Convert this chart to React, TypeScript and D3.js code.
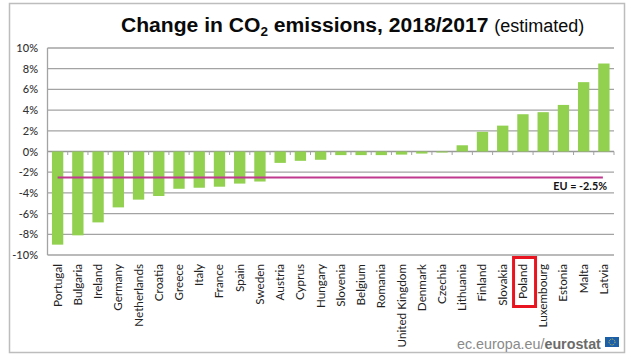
import React from "react";
import * as d3 from "d3";

const countries = ["Portugal","Bulgaria","Ireland","Germany","Netherlands","Croatia","Greece","Italy","France","Spain","Sweden","Austria","Cyprus","Hungary","Slovenia","Belgium","Romania","United Kingdom","Denmark","Czechia","Lithuania","Finland","Slovakia","Poland","Luxembourg","Estonia","Malta","Latvia"];
const changes = [-9.0,-8.1,-6.85,-5.4,-4.65,-4.3,-3.6,-3.5,-3.4,-3.1,-2.9,-1.1,-0.9,-0.8,-0.35,-0.35,-0.35,-0.3,-0.2,-0.1,0.6,1.9,2.5,3.6,3.8,4.5,6.7,8.5];
const yTicks = [10,8,6,4,2,0,-2,-4,-6,-8,-10];
const euValue = -2.5;

const W = 640, H = 356;
const y = d3.scaleLinear().domain([-10, 10]).range([255, 48]);
const x = d3.scaleBand<string>().domain(countries).range([47.5, 614]).paddingInner(0.44).paddingOuter(0.22);
const step = x.step();
const left = 47.5, right = 614;
const labelFont = "Lato, Carlito, 'Open Sans', sans-serif";
const grey = "#a3a3a3";

export default function App() {
  const poland = x("Poland")! + x.bandwidth() / 2;
  return (
    <svg width={W} height={H} viewBox={`0 0 ${W} ${H}`} style={{ position: "absolute", left: 0, top: 0, background: "#fff" }}>
      <rect x={9.5} y={3.5} width={615} height={349} fill="none" stroke="#bdbdbd" strokeWidth={1.5} />
      <text x={121} y={32} fontFamily="'Liberation Sans', Arial, sans-serif" fontSize={21.1} fontWeight={700} fill="#0a0a0a">
        Change in CO<tspan dy={4} fontSize={13.5}>2</tspan><tspan dy={-4}> emissions, 2018/2017 </tspan>
        <tspan fontWeight={400} fontSize={18}>(estimated)</tspan>
      </text>
      {yTicks.map(t => (
        <g key={t}>
          <line x1={left} x2={right} y1={y(t)} y2={y(t)} stroke={t === 0 ? "#999" : grey} strokeWidth={1.3} />
          <text x={38} y={y(t) + 4} textAnchor="end" fontFamily={labelFont} fontSize={11} fontWeight={500} fill="#333">{t}%</text>
        </g>
      ))}
      <line x1={left} x2={left} y1={48} y2={255} stroke={grey} strokeWidth={1.3} />
      {d3.range(countries.length + 1).map(i => (
        <line key={i} x1={left + i * step} x2={left + i * step} y1={y(0)} y2={y(0) + 3.5} stroke={grey} strokeWidth={1} />
      ))}
      {countries.map((c, i) => (
        <rect key={c} x={x(c)!} width={x.bandwidth()} y={Math.min(y(0), y(changes[i]))} height={Math.abs(y(changes[i]) - y(0))} fill="#92d050" />
      ))}
      <line x1={x("Portugal")! + x.bandwidth() / 2} x2={x("Latvia")! + x.bandwidth() / 2 - 1} y1={y(euValue)} y2={y(euValue)} stroke="#c0398f" strokeWidth={2} />
      <text x={607} y={190} textAnchor="end" fontFamily={labelFont} fontSize={10.8} fontWeight={700} fill="#111">EU = -2.5%</text>
      {countries.map(c => {
        const cx = x(c)! + x.bandwidth() / 2;
        return (
          <text key={c} transform={`translate(${cx + 4},264) rotate(-90)`} textAnchor="end" fontFamily={labelFont} fontSize={11.7} fill="#222">{c}</text>
        );
      })}
      <rect x={poland - 9.4} y={257.5} width={22} height={49} fill="none" stroke="#e8141f" strokeWidth={3} />
      <text x={457} y={349} fontFamily="'Liberation Sans', Arial, sans-serif" fontSize={14.3} fill="#8a8a8a">ec.europa.eu/<tspan fontWeight={700} fill="#6b6b6b">eurostat</tspan></text>
      <rect x={605} y={337} width={14} height={10} fill="#1a5fa8" />
      <circle cx={612} cy={342} r={3} fill="none" stroke="#d8c84a" strokeWidth={1} strokeDasharray="1 1" />
    </svg>
  );
}
